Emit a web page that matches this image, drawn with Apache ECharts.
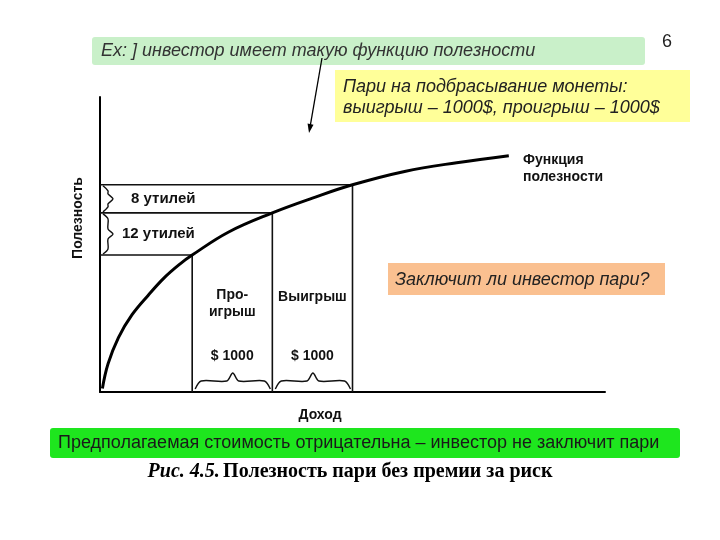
<!DOCTYPE html>
<html>
<head>
<meta charset="utf-8">
<script src="https://cdn.jsdelivr.net/npm/echarts@6/dist/echarts.min.js"></script>
<style>
  html, body { margin: 0; padding: 0; background: #fff; }
  #chart { width: 720px; height: 540px; }
</style>
</head>
<body>
<div id="chart"></div>
<script>
// функция полезности: доход ($) -> полезность (утили)
var incomeData = [30, 100, 230, 400, 600, 800, 1000, 1150, 1600, 2150, 2650, 3150, 3800, 4450, 5100];
var utilityData = [1, 8, 15.5, 22, 27.5, 32.5, 36.5, 39, 45.5, 51, 55.2, 59, 62.8, 65.3, 67.3];
// проигрыш / текущий доход / выигрыш
var betIncome = [1150, 2150, 3150];
var betUtility = [39, 51, 59];
var gapLabels = ['12 утилей', '8 утилей'];
var stakeLabels = ['$ 1000', '$ 1000'];

var chart = echarts.init(document.getElementById('chart'));

var curve = incomeData.map(function (x, i) { return [x, utilityData[i]]; });

var series = [{
    type: 'line',
    data: curve,
    smooth: 0.4,
    symbol: 'none',
    lineStyle: { color: '#000', width: 3 },
    z: 5
}];
// линии-проекции от точек на оси
betIncome.forEach(function (x, i) {
    series.push({
        type: 'line',
        data: [[0, betUtility[i]], [x, betUtility[i]], [x, 0]],
        symbol: 'none',
        lineStyle: { color: '#111', width: 1.6 },
        z: 3
    });
});

var labelFont = 'bold 14px "Liberation Sans", Arial, sans-serif';
var slideFont = 'italic 18px "Liberation Sans", Arial, sans-serif';

var option = {
    animation: false,
    backgroundColor: '#fff',
    grid: { left: 100, top: 97, width: 505, height: 295 },
    xAxis: {
        type: 'value', min: 0, max: 6300,
        axisLine: { lineStyle: { color: '#000', width: 2 } },
        axisTick: { show: false }, axisLabel: { show: false }, splitLine: { show: false }
    },
    yAxis: {
        type: 'value', min: 0, max: 84,
        axisLine: { show: true, lineStyle: { color: '#000', width: 2 } },
        axisTick: { show: false }, axisLabel: { show: false }, splitLine: { show: false }
    },
    series: series
};
chart.setOption(option);

function px(x, y) { return chart.convertToPixel({ gridIndex: 0 }, [x, y]); }

// фигурная скобка вправо
function vBrace(x, yTop, yBot, w) {
    var ym = (yTop + yBot) / 2, r = 5;
    return [[x, yTop], [x + w * 0.5, yTop + r], [x + w * 0.5, ym - r], [x + w, ym],
        [x + w * 0.5, ym + r], [x + w * 0.5, yBot - r], [x, yBot]];
}
// фигурная скобка вверх
function hBrace(xL, xR, yb, h) {
    var xm = (xL + xR) / 2, r = 6;
    return [[xL, yb], [xL + r, yb - h * 0.5], [xm - r, yb - h * 0.5], [xm, yb - h],
        [xm + r, yb - h * 0.5], [xR - r, yb - h * 0.5], [xR, yb]];
}

var gfx = [];

// фон слайда: плашки
gfx.push({ type: 'rect', shape: { x: 92, y: 37, width: 553, height: 28, r: 3 }, style: { fill: '#c9f0c9' }, z: 1 });
gfx.push({ type: 'text', x: 101, y: 51, style: { text: 'Ex: ] инвестор имеет такую функцию полезности', font: slideFont, fill: '#333', verticalAlign: 'middle' }, z: 2 });
gfx.push({ type: 'text', x: 667, y: 42, style: { text: '6', font: '18px "Liberation Sans", Arial, sans-serif', fill: '#222', align: 'center', verticalAlign: 'middle' }, z: 2 });
gfx.push({ type: 'rect', shape: { x: 335, y: 70, width: 355, height: 52 }, style: { fill: '#ffff99' }, z: 1 });
gfx.push({ type: 'text', x: 343, y: 87, style: { text: 'Пари на подбрасывание монеты:', font: slideFont, fill: '#222', verticalAlign: 'middle' }, z: 2 });
gfx.push({ type: 'text', x: 343, y: 108, style: { text: 'выигрыш – 1000$, проигрыш – 1000$', font: slideFont, fill: '#222', verticalAlign: 'middle' }, z: 2 });
gfx.push({ type: 'rect', shape: { x: 388, y: 263, width: 277, height: 32 }, style: { fill: '#fac090' }, z: 1 });
gfx.push({ type: 'text', x: 395, y: 280, style: { text: 'Заключит ли инвестор пари?', font: slideFont, fill: '#222', verticalAlign: 'middle' }, z: 2 });
gfx.push({ type: 'rect', shape: { x: 50, y: 428, width: 630, height: 30, r: 3 }, style: { fill: '#1ee61e' }, z: 1 });
gfx.push({ type: 'text', x: 58, y: 443, style: { text: 'Предполагаемая стоимость отрицательна – инвестор не заключит пари', font: '18px "Liberation Sans", Arial, sans-serif', fill: '#1a1a1a', verticalAlign: 'middle' }, z: 2 });
gfx.push({
    type: 'text', x: 350, y: 472,
    style: {
        text: '{i|Рис. 4.5.} {b|Полезность пари без премии за риск}',
        align: 'center', verticalAlign: 'middle',
        rich: {
            i: { font: 'italic bold 20px "Liberation Serif", "Times New Roman", serif', fill: '#000' },
            b: { font: 'bold 20px "Liberation Serif", "Times New Roman", serif', fill: '#000' }
        }
    }, z: 2
});

// стрелка от заголовка к графику
var a0 = [322, 58], a1 = [309, 133];
var dx = a1[0] - a0[0], dy = a1[1] - a0[1], len = Math.sqrt(dx * dx + dy * dy);
var ux = dx / len, uy = dy / len;
gfx.push({ type: 'line', shape: { x1: a0[0], y1: a0[1], x2: a1[0] - ux * 6, y2: a1[1] - uy * 6 }, style: { stroke: '#000', lineWidth: 1.3 }, z: 4 });
gfx.push({ type: 'polygon', shape: { points: [a1, [a1[0] - ux * 9 - uy * 3, a1[1] - uy * 9 + ux * 3], [a1[0] - ux * 9 + uy * 3, a1[1] - uy * 9 - ux * 3]] }, style: { fill: '#000' }, z: 4 });

// подписи осей
gfx.push({ type: 'text', x: 78, y: 218, rotation: Math.PI / 2, style: { text: 'Полезность', font: labelFont, fill: '#111', align: 'center', verticalAlign: 'middle' }, z: 2 });
gfx.push({ type: 'text', x: 320, y: 415, style: { text: 'Доход', font: labelFont, fill: '#111', align: 'center', verticalAlign: 'middle' }, z: 2 });
gfx.push({ type: 'text', x: 523, y: 160, style: { text: 'Функция', font: labelFont, fill: '#111', verticalAlign: 'middle' }, z: 2 });
gfx.push({ type: 'text', x: 523, y: 177, style: { text: 'полезности', font: labelFont, fill: '#111', verticalAlign: 'middle' }, z: 2 });

// скобки слева: разница полезности
var pL = px(betIncome[0], betUtility[0]);
var pM = px(betIncome[1], betUtility[1]);
var pW = px(betIncome[2], betUtility[2]);
var x0 = px(0, 0);
var gapX = [122, 131];
[[pM, pL], [pW, pM]].forEach(function (pair, i) {
    gfx.push({ type: 'polyline', shape: { points: vBrace(x0[0] + 3, pair[0][1] + 1, pair[1][1] - 1, 10), smooth: 0.3 }, style: { stroke: '#111', lineWidth: 1.4, fill: null }, z: 4 });
    gfx.push({ type: 'text', x: gapX[i], y: (pair[0][1] + pair[1][1]) / 2, style: { text: gapLabels[i], font: 'bold 15px "Liberation Sans", Arial, sans-serif', fill: '#111', verticalAlign: 'middle' }, z: 2 });
});

// скобки снизу: ставка
[[pL, pM], [pM, pW]].forEach(function (pair, i) {
    gfx.push({ type: 'polyline', shape: { points: hBrace(pair[0][0] + 3, pair[1][0] - 2, x0[1] - 3, 16), smooth: 0.3 }, style: { stroke: '#111', lineWidth: 1.4, fill: null }, z: 4 });
    gfx.push({ type: 'text', x: (pair[0][0] + pair[1][0]) / 2, y: 356, style: { text: stakeLabels[i], font: labelFont, fill: '#111', align: 'center', verticalAlign: 'middle' }, z: 2 });
});
gfx.push({ type: 'text', x: (pL[0] + pM[0]) / 2, y: 295, style: { text: 'Про-', font: labelFont, fill: '#111', align: 'center', verticalAlign: 'middle' }, z: 2 });
gfx.push({ type: 'text', x: (pL[0] + pM[0]) / 2, y: 312, style: { text: 'игрыш', font: labelFont, fill: '#111', align: 'center', verticalAlign: 'middle' }, z: 2 });
gfx.push({ type: 'text', x: (pM[0] + pW[0]) / 2, y: 297, style: { text: 'Выигрыш', font: labelFont, fill: '#111', align: 'center', verticalAlign: 'middle' }, z: 2 });

chart.setOption({ graphic: gfx });
</script>
</body>
</html>
